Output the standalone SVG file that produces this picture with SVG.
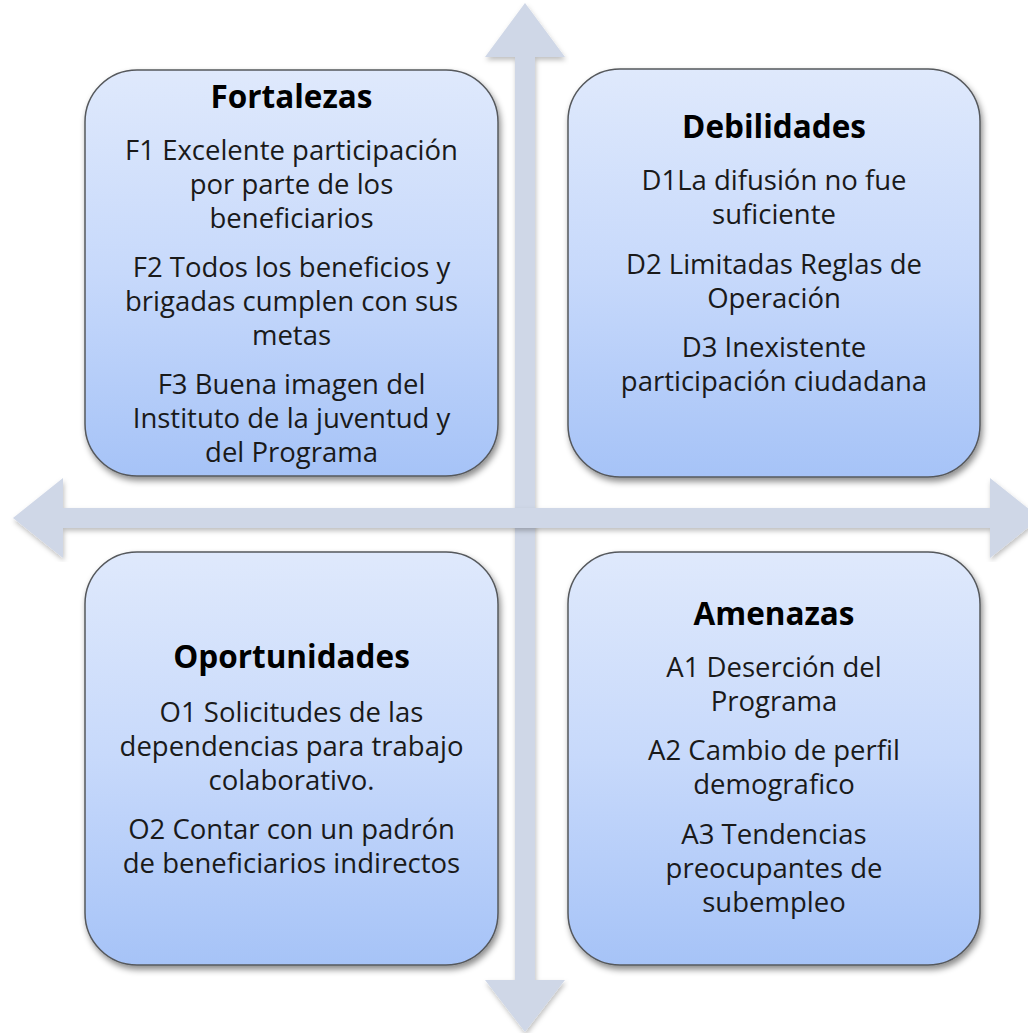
<svg xmlns="http://www.w3.org/2000/svg" width="1028" height="1033" viewBox="0 0 1028 1033">
  <defs>
    <linearGradient id="boxFill" x1="0" y1="0" x2="0" y2="1">
      <stop offset="0" stop-color="#dfe9fc"/>
      <stop offset="0.5" stop-color="#c7d9fb"/>
      <stop offset="1" stop-color="#a6c3f7"/>
    </linearGradient>
    <filter id="boxShadow" x="-10%" y="-10%" width="125%" height="125%">
      <feDropShadow dx="2" dy="4" stdDeviation="3" flood-color="#000" flood-opacity="0.45"/>
    </filter>
    <filter id="arrowShadow" x="-5%" y="-5%" width="110%" height="110%">
      <feDropShadow dx="1" dy="3" stdDeviation="2.5" flood-color="#000" flood-opacity="0.25"/>
    </filter>
  </defs>
  <style>
    .box { fill: url(#boxFill); stroke: #55585c; stroke-width: 1.5; filter: url(#boxShadow); }
    .arrow { fill: #cfd7e7; filter: url(#arrowShadow); }
    .title { font-family: "Open Sans", "Liberation Sans", sans-serif; font-weight: bold; font-size: 31.5px; fill: #000; text-anchor: middle; }
    .body { font-family: "Open Sans", "Liberation Sans", sans-serif; font-size: 27.5px; fill: #1a1a1a; text-anchor: middle; }
  </style>
  <rect width="1028" height="1033" fill="#ffffff"/>

  <g id="connectors">
    <path class="arrow" d="M525,3 L565,57 L535,57 L535,980 L565,980 L525,1032 L485,980 L515,980 L515,57 L485,57 Z"/>
    <path class="arrow" d="M13,518 L63,478 L63,508 L990,508 L990,478 L1040,518 L990,558 L990,528 L63,528 L63,558 Z"/>
  </g>

  <g id="fortalezas">
    <rect class="box" x="85" y="70" width="413" height="406" rx="52" ry="52"/>
    <text class="title" x="291.5" y="108">Fortalezas</text>
    <text class="body" x="291.5" y="160">F1 Excelente participación</text>
    <text class="body" x="291.5" y="194">por parte de los</text>
    <text class="body" x="291.5" y="228">beneficiarios</text>
    <text class="body" x="291.5" y="277">F2 Todos los beneficios y</text>
    <text class="body" x="291.5" y="311">brigadas cumplen con sus</text>
    <text class="body" x="291.5" y="345">metas</text>
    <text class="body" x="291.5" y="394">F3 Buena imagen del</text>
    <text class="body" x="291.5" y="428">Instituto de la juventud y</text>
    <text class="body" x="291.5" y="462">del Programa</text>
  </g>

  <g id="debilidades">
    <rect class="box" x="568" y="69" width="412" height="408" rx="52" ry="52"/>
    <text class="title" x="774" y="138">Debilidades</text>
    <text class="body" x="774" y="190">D1La difusión no fue</text>
    <text class="body" x="774" y="224">suficiente</text>
    <text class="body" x="774" y="274">D2 Limitadas Reglas de</text>
    <text class="body" x="774" y="308">Operación</text>
    <text class="body" x="774" y="357">D3 Inexistente</text>
    <text class="body" x="774" y="391">participación ciudadana</text>
  </g>

  <g id="oportunidades">
    <rect class="box" x="85" y="552" width="413" height="413" rx="52" ry="52"/>
    <text class="title" x="291.5" y="668">Oportunidades</text>
    <text class="body" x="291.5" y="722">O1 Solicitudes de las</text>
    <text class="body" x="291.5" y="756">dependencias para trabajo</text>
    <text class="body" x="291.5" y="790">colaborativo.</text>
    <text class="body" x="291.5" y="839">O2 Contar con un padrón</text>
    <text class="body" x="291.5" y="873">de beneficiarios indirectos</text>
  </g>

  <g id="amenazas">
    <rect class="box" x="568" y="552" width="412" height="413" rx="52" ry="52"/>
    <text class="title" x="774" y="625">Amenazas</text>
    <text class="body" x="774" y="677">A1 Deserción del</text>
    <text class="body" x="774" y="711">Programa</text>
    <text class="body" x="774" y="760">A2 Cambio de perfil</text>
    <text class="body" x="774" y="794">demografico</text>
    <text class="body" x="774" y="844">A3 Tendencias</text>
    <text class="body" x="774" y="878">preocupantes de</text>
    <text class="body" x="774" y="912">subempleo</text>
  </g>
</svg>
